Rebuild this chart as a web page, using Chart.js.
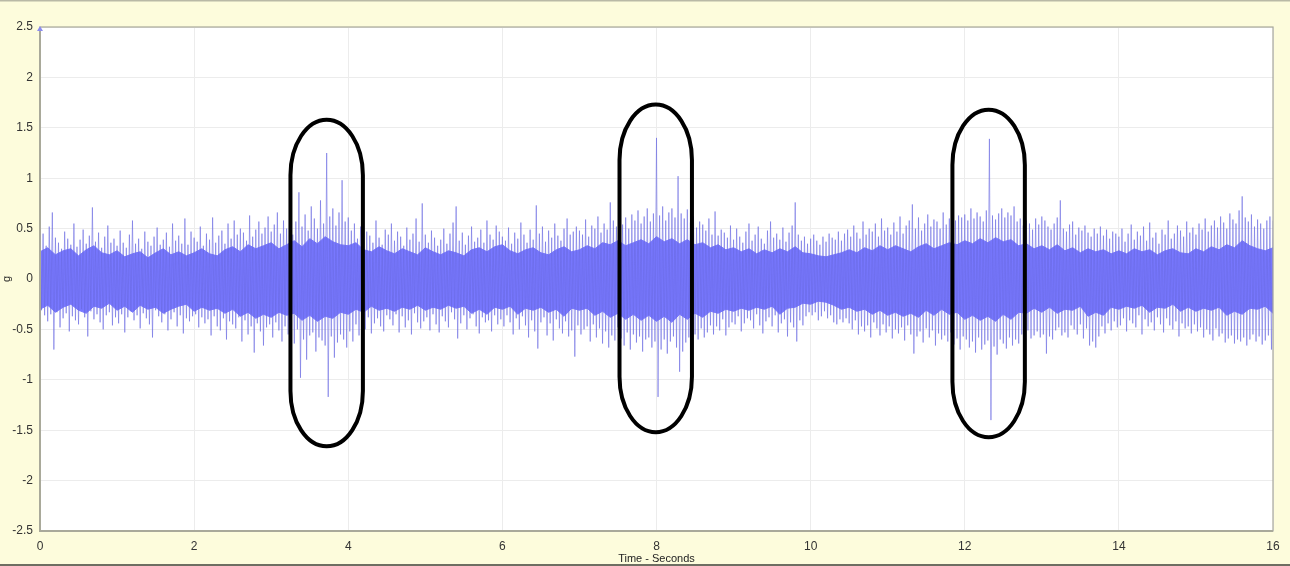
<!DOCTYPE html>
<html>
<head>
<meta charset="utf-8">
<script src="https://cdn.jsdelivr.net/npm/chart.js@4/dist/chart.umd.min.js"></script>
<style>
html,body{margin:0;padding:0;background:#fdfcdc;}
#wrap{width:1290px;height:566px;position:relative;}
</style>
</head>
<body>
<div id="wrap"><canvas id="c" width="1290" height="566"></canvas></div>
<script>
// ---- axis ticks ----
const xTicks = [0, 2, 4, 6, 8, 10, 12, 14, 16];
const yTicks = [2.5, 2, 1.5, 1, 0.5, 0, -0.5, -1, -1.5, -2, -2.5];

// ---- dense core band of the vibration signal (g), every 0.1 s ----
const coreStep = 0.1;
const coreHi = [
0.27,0.31,0.24,0.28,0.30,0.23,0.29,0.33,0.26,0.24,
0.28,0.22,0.25,0.27,0.21,0.26,0.30,0.24,0.27,0.23,
0.26,0.30,0.25,0.23,0.29,0.32,0.27,0.34,0.30,0.33,
0.36,0.30,0.34,0.38,0.32,0.40,0.35,0.42,0.37,0.34,
0.33,0.36,0.29,0.27,0.32,0.28,0.25,0.30,0.27,0.24,
0.31,0.27,0.24,0.28,0.26,0.23,0.29,0.31,0.27,0.32,
0.34,0.28,0.25,0.29,0.31,0.26,0.24,0.29,0.32,0.27,
0.29,0.33,0.30,0.36,0.34,0.38,0.33,0.36,0.39,0.35,
0.42,0.37,0.40,0.35,0.39,0.34,0.36,0.31,0.34,0.29,
0.31,0.27,0.30,0.25,0.29,0.26,0.30,0.27,0.32,0.26,
0.25,0.23,0.22,0.24,0.26,0.29,0.26,0.31,0.28,0.33,
0.29,0.33,0.30,0.27,0.32,0.35,0.30,0.33,0.36,0.34,
0.38,0.35,0.40,0.36,0.41,0.37,0.39,0.33,0.35,0.30,
0.33,0.29,0.34,0.28,0.31,0.26,0.30,0.27,0.29,0.25,
0.28,0.25,0.30,0.27,0.29,0.24,0.28,0.30,0.26,0.25,
0.30,0.27,0.32,0.29,0.34,0.31,0.38,0.33,0.30,0.28,
0.31];
const coreLo = [
-0.30,-0.26,-0.33,-0.28,-0.25,-0.31,-0.34,-0.27,-0.29,-0.24,
-0.31,-0.27,-0.33,-0.26,-0.30,-0.28,-0.34,-0.30,-0.27,-0.25,
-0.32,-0.28,-0.31,-0.29,-0.34,-0.30,-0.37,-0.33,-0.39,-0.35,
-0.38,-0.33,-0.36,-0.34,-0.41,-0.36,-0.42,-0.37,-0.39,-0.33,
-0.35,-0.30,-0.33,-0.27,-0.31,-0.29,-0.32,-0.28,-0.30,-0.26,
-0.31,-0.28,-0.30,-0.26,-0.29,-0.27,-0.34,-0.30,-0.35,-0.28,
-0.30,-0.27,-0.35,-0.29,-0.31,-0.28,-0.33,-0.30,-0.37,-0.29,
-0.31,-0.29,-0.36,-0.32,-0.38,-0.34,-0.40,-0.35,-0.41,-0.36,
-0.42,-0.37,-0.43,-0.35,-0.40,-0.34,-0.38,-0.32,-0.34,-0.30,
-0.32,-0.29,-0.31,-0.28,-0.30,-0.27,-0.35,-0.29,-0.28,-0.24,
-0.25,-0.22,-0.23,-0.26,-0.30,-0.28,-0.32,-0.30,-0.35,-0.31,
-0.36,-0.33,-0.37,-0.34,-0.38,-0.31,-0.36,-0.30,-0.35,-0.33,
-0.40,-0.36,-0.41,-0.37,-0.42,-0.35,-0.40,-0.33,-0.34,-0.29,
-0.33,-0.28,-0.34,-0.30,-0.31,-0.27,-0.37,-0.33,-0.36,-0.28,
-0.30,-0.27,-0.29,-0.26,-0.33,-0.28,-0.29,-0.25,-0.32,-0.28,
-0.32,-0.29,-0.31,-0.28,-0.36,-0.32,-0.35,-0.29,-0.30,-0.27,
-0.34];

// ---- peak excursions of the signal (g), alternating up / down, every 0.02 s ----
const peakStep = 0.02;
const peaks = [
+0.38,-0.31,+0.45,-0.36,+0.33,-0.42,+0.52,-0.35,+0.66,-0.70,+0.41,-0.33,+0.36,-0.48,+0.30,-0.39,+0.47,-0.34,+0.40,-0.52,+0.34,-0.37,+0.55,-0.41,+0.32,-0.45,+0.39,-0.30,+0.49,-0.38,+0.35,-0.57,+0.43,-0.32,+0.71,-0.40,+0.37,-0.35,+0.46,-0.43,+0.31,-0.50,+0.42,-0.36,+0.53,-0.33,+0.36,-0.46,+0.40,-0.38,
+0.33,-0.44,+0.48,-0.35,+0.36,-0.53,+0.31,-0.38,+0.44,-0.32,+0.58,-0.41,+0.35,-0.36,+0.40,-0.49,+0.30,-0.34,+0.47,-0.39,+0.37,-0.45,+0.33,-0.58,+0.42,-0.31,+0.51,-0.37,+0.34,-0.43,+0.39,-0.35,+0.46,-0.51,+0.32,-0.40,+0.55,-0.33,+0.38,-0.47,+0.43,-0.36,+0.35,-0.54,+0.60,-0.39,+0.34,-0.42,+0.47,-0.37,
+0.41,-0.35,+0.37,-0.48,+0.52,-0.38,+0.33,-0.44,+0.45,-0.40,+0.39,-0.56,+0.61,-0.37,+0.36,-0.47,+0.43,-0.51,+0.48,-0.39,+0.35,-0.60,+0.55,-0.42,+0.40,-0.45,+0.58,-0.49,+0.44,-0.38,+0.50,-0.62,+0.46,-0.41,+0.38,-0.55,+0.63,-0.47,+0.42,-0.73,+0.49,-0.44,+0.57,-0.52,+0.45,-0.66,+0.51,-0.48,+0.62,-0.45,
+0.47,-0.58,+0.54,-0.43,+0.66,-0.51,+0.45,-0.62,+0.58,-0.47,+0.50,-0.55,+0.69,-0.49,+0.44,-0.64,+0.57,-0.50,+0.86,-0.98,+0.52,-0.60,+0.64,-0.80,+0.48,-0.56,+0.72,-0.53,+0.60,-0.72,+0.50,-0.58,+0.78,-0.61,+0.55,-0.66,+1.25,-1.17,+0.62,-0.57,+0.70,-0.78,+0.53,-0.63,+0.66,-0.55,+0.98,-0.60,+0.57,-0.68,
+0.61,-0.52,+0.48,-0.62,+0.55,-0.45,+0.40,-0.56,+0.52,-0.41,+0.37,-0.50,+0.47,-0.38,+0.43,-0.54,+0.36,-0.44,+0.58,-0.39,+0.41,-0.47,+0.34,-0.52,+0.49,-0.36,+0.44,-0.40,+0.55,-0.46,+0.38,-0.35,+0.47,-0.53,+0.42,-0.37,+0.33,-0.48,+0.51,-0.41,+0.39,-0.55,+0.45,-0.34,+0.60,-0.43,+0.37,-0.49,+0.75,-0.42,
+0.44,-0.38,+0.36,-0.51,+0.48,-0.35,+0.41,-0.45,+0.33,-0.53,+0.39,-0.37,+0.50,-0.42,+0.35,-0.48,+0.45,-0.33,+0.56,-0.40,+0.72,-0.59,+0.38,-0.44,+0.46,-0.36,+0.34,-0.50,+0.43,-0.39,+0.52,-0.35,+0.37,-0.47,+0.41,-0.54,+0.49,-0.38,+0.36,-0.43,+0.58,-0.41,+0.44,-0.52,+0.39,-0.36,+0.53,-0.45,+0.47,-0.40,
+0.42,-0.47,+0.38,-0.36,+0.51,-0.43,+0.35,-0.55,+0.46,-0.39,+0.40,-0.50,+0.56,-0.37,+0.44,-0.46,+0.36,-0.58,+0.49,-0.41,+0.39,-0.52,+0.73,-0.69,+0.45,-0.43,+0.52,-0.38,+0.37,-0.56,+0.48,-0.44,+0.41,-0.61,+0.55,-0.40,+0.43,-0.49,+0.38,-0.54,+0.50,-0.42,+0.60,-0.57,+0.44,-0.51,+0.47,-0.77,+0.52,-0.46,
+0.48,-0.55,+0.44,-0.50,+0.59,-0.47,+0.42,-0.62,+0.53,-0.45,+0.50,-0.58,+0.62,-0.49,+0.46,-0.64,+0.55,-0.52,+0.49,-0.68,+0.76,-0.56,+0.58,-0.61,+0.52,-0.48,+0.66,-0.59,+0.54,-0.66,+0.61,-0.53,+0.50,-0.70,+0.64,-0.55,+0.58,-0.63,+0.68,-0.57,+0.55,-0.72,+0.62,-0.60,+0.70,-0.58,+0.57,-0.68,+0.65,-0.62,
+1.40,-1.17,+0.63,-0.70,+0.72,-0.60,+0.58,-0.74,+0.66,-0.62,+0.70,-0.57,+0.61,-0.68,+1.02,-0.92,+0.65,-0.72,+0.60,-0.63,+0.69,-0.58,+0.56,-0.66,+0.62,-0.55,+0.51,-0.60,+0.57,-0.49,+0.54,-0.58,+0.48,-0.53,+0.60,-0.46,+0.44,-0.55,+0.67,-0.47,+0.43,-0.51,+0.49,-0.40,+0.46,-0.56,+0.41,-0.48,+0.53,-0.43,
+0.39,-0.45,+0.50,-0.37,+0.42,-0.52,+0.36,-0.44,+0.47,-0.39,+0.55,-0.41,+0.38,-0.49,+0.44,-0.35,+0.52,-0.46,+0.40,-0.54,+0.35,-0.42,+0.48,-0.38,+0.57,-0.47,+0.41,-0.36,+0.45,-0.53,+0.39,-0.44,+0.51,-0.40,+0.37,-0.57,+0.46,-0.43,+0.53,-0.48,+0.76,-0.62,+0.44,-0.41,+0.38,-0.46,+0.42,-0.37,+0.35,-0.33,
+0.40,-0.36,+0.44,-0.33,+0.38,-0.41,+0.34,-0.37,+0.42,-0.32,+0.37,-0.39,+0.45,-0.36,+0.41,-0.43,+0.39,-0.45,+0.47,-0.40,+0.38,-0.43,+0.45,-0.39,+0.49,-0.44,+0.42,-0.50,+0.53,-0.41,+0.46,-0.55,+0.40,-0.47,+0.57,-0.52,+0.44,-0.46,+0.50,-0.58,+0.47,-0.43,+0.55,-0.49,+0.42,-0.56,+0.60,-0.45,+0.48,-0.53,
+0.51,-0.47,+0.44,-0.59,+0.56,-0.50,+0.47,-0.54,+0.62,-0.48,+0.45,-0.61,+0.53,-0.46,+0.58,-0.55,+0.74,-0.74,+0.50,-0.57,+0.61,-0.52,+0.48,-0.63,+0.55,-0.49,+0.64,-0.58,+0.52,-0.51,+0.59,-0.66,+0.57,-0.54,+0.50,-0.60,+0.66,-0.56,+0.54,-0.62,+0.60,-0.53,+0.68,-0.65,+0.58,-0.59,+0.63,-0.70,+0.61,-0.57,
+0.64,-0.60,+0.58,-0.68,+0.70,-0.62,+0.60,-0.73,+0.66,-0.58,+0.62,-0.70,+0.57,-0.65,+0.68,-0.61,+1.39,-1.40,+0.63,-0.67,+0.59,-0.75,+0.65,-0.60,+0.70,-0.64,+0.61,-0.69,+0.66,-0.58,+0.63,-0.66,+0.72,-0.60,+0.57,-0.64,+0.60,-0.55,+0.53,-0.62,+0.58,-0.51,+0.55,-0.59,+0.49,-0.56,+0.60,-0.52,+0.54,-0.58,
+0.62,-0.55,+0.58,-0.74,+0.52,-0.57,+0.49,-0.60,+0.55,-0.51,+0.61,-0.48,+0.78,-0.56,+0.50,-0.53,+0.47,-0.58,+0.54,-0.46,+0.57,-0.50,+0.44,-0.55,+0.51,-0.45,+0.48,-0.59,+0.53,-0.49,+0.46,-0.66,+0.42,-0.62,+0.50,-0.68,+0.45,-0.57,+0.52,-0.47,+0.43,-0.54,+0.49,-0.44,+0.40,-0.51,+0.47,-0.42,+0.45,-0.48,
+0.42,-0.46,+0.50,-0.39,+0.37,-0.52,+0.45,-0.41,+0.54,-0.44,+0.39,-0.48,+0.47,-0.36,+0.43,-0.55,+0.52,-0.40,+0.38,-0.47,+0.56,-0.43,+0.41,-0.51,+0.46,-0.38,+0.35,-0.45,+0.49,-0.53,+0.44,-0.39,+0.58,-0.46,+0.40,-0.50,+0.45,-0.42,+0.53,-0.57,+0.48,-0.44,+0.42,-0.49,+0.57,-0.47,+0.46,-0.54,+0.51,-0.45,
+0.44,-0.52,+0.55,-0.48,+0.49,-0.58,+0.60,-0.50,+0.47,-0.55,+0.53,-0.61,+0.58,-0.49,+0.51,-0.57,+0.62,-0.54,+0.56,-0.63,+0.50,-0.59,+0.65,-0.56,+0.59,-0.64,+0.55,-0.60,+0.68,-0.62,+0.82,-0.58,+0.61,-0.66,+0.57,-0.60,+0.64,-0.55,+0.52,-0.62,+0.59,-0.57,+0.55,-0.65,+0.50,-0.61,+0.58,-0.56,+0.62,-0.70,
+0.58];

// ---- highlighted events (time in s, extent in g) ----
const eventCenter = [3.72, 7.99, 12.31];
const eventHalfWidth = [0.47, 0.47, 0.47];
const eventTop = [1.58, 1.73, 1.68];
const eventBottom = [-1.66, -1.52, -1.57];
const eventCap = [0.55, 0.55, 0.55];

// ---- build library data from the arrays ----
const hiPts = coreHi.map((v, i) => ({x: +(i * coreStep).toFixed(3), y: v}));
const loPts = coreLo.map((v, i) => ({x: +(i * coreStep).toFixed(3), y: v}));
const peakPts = peaks.map((v, i) => ({x: +(i * peakStep).toFixed(3), y: v}));

const FONT = "'Liberation Sans', Arial, sans-serif";

const deco = {
  id: 'deco',
  beforeDraw(chart) {
    const ctx = chart.ctx, W = chart.width, H = chart.height;
    ctx.save();
    ctx.fillStyle = '#fdfcdc';
    ctx.fillRect(0, 0, W, H);
    const a = chart.chartArea;
    ctx.fillStyle = '#ffffff';
    ctx.fillRect(a.left, a.top, a.right - a.left, a.bottom - a.top);
    ctx.strokeStyle = '#b9b9a6';
    ctx.lineWidth = 1.5;
    ctx.beginPath(); ctx.moveTo(0, 0.75); ctx.lineTo(W, 0.75); ctx.stroke();
    ctx.strokeStyle = '#6e6e62';
    ctx.lineWidth = 2;
    ctx.beginPath(); ctx.moveTo(0, H - 1); ctx.lineTo(W, H - 1); ctx.stroke();
    ctx.restore();
  },
  afterDatasetsDraw(chart) {
    const ctx = chart.ctx, a = chart.chartArea;
    const xs = chart.scales.x, ys = chart.scales.y;
    ctx.save();
    ctx.strokeStyle = '#a9a99a';
    ctx.lineWidth = 1.2;
    ctx.strokeRect(a.left, a.top, a.right - a.left, a.bottom - a.top);
    ctx.lineWidth = 2;
    ctx.beginPath();
    ctx.moveTo(a.left, a.top); ctx.lineTo(a.left, a.bottom); ctx.lineTo(a.right, a.bottom);
    ctx.stroke();
    ctx.fillStyle = '#8c8cf0';
    const tx = xs.getPixelForValue(0), ty = ys.getPixelForValue(2.5);
    ctx.beginPath();
    ctx.moveTo(tx - 3, ty + 4); ctx.lineTo(tx + 3, ty + 4); ctx.lineTo(tx, ty - 1); ctx.closePath();
    ctx.fill();
    ctx.strokeStyle = '#000000';
    ctx.lineWidth = 4;
    for (let i = 0; i < eventCenter.length; i++) {
      const cx = xs.getPixelForValue(eventCenter[i]);
      const rx = xs.getPixelForValue(eventCenter[i] + eventHalfWidth[i]) - cx;
      const yT = ys.getPixelForValue(eventTop[i]);
      const yB = ys.getPixelForValue(eventBottom[i]);
      const ry = ys.getPixelForValue(0) - ys.getPixelForValue(eventCap[i]);
      ctx.beginPath();
      ctx.moveTo(cx - rx, yB - ry);
      ctx.lineTo(cx - rx, yT + ry);
      ctx.ellipse(cx, yT + ry, rx, ry, 0, Math.PI, 2 * Math.PI);
      ctx.lineTo(cx + rx, yB - ry);
      ctx.ellipse(cx, yB - ry, rx, ry, 0, 0, Math.PI);
      ctx.closePath();
      ctx.stroke();
    }
    ctx.restore();
  }
};

new Chart(document.getElementById('c'), {
  type: 'line',
  data: {
    datasets: [
      {label: 'coreHi', data: hiPts, borderColor: '#7878ff', borderWidth: 1, backgroundColor: '#7878ff',
       pointRadius: 0, tension: 0, fill: '+1', order: 2},
      {label: 'coreLo', data: loPts, borderColor: '#7878ff', borderWidth: 1, backgroundColor: '#7878ff',
       pointRadius: 0, tension: 0, fill: false, order: 2},
      {label: 'signal', data: peakPts, borderColor: 'rgba(105,105,225,0.58)', borderWidth: 1,
       pointRadius: 0, tension: 0, fill: false, order: 1}
    ]
  },
  options: {
    responsive: false,
    animation: false,
    devicePixelRatio: 1,
    layout: {padding: {top: 27, right: 17, left: 0, bottom: 0}},
    plugins: {legend: {display: false}, tooltip: {enabled: false}},
    scales: {
      x: {
        type: 'linear', min: 0, max: 16,
        afterBuildTicks: s => { s.ticks = xTicks.map(v => ({value: v})); },
        afterFit: s => { s.height = 35; },
        grid: {color: '#ececec', lineWidth: 1, drawTicks: false},
        border: {display: false},
        ticks: {font: {family: FONT, size: 12}, color: '#333333', padding: 8, maxRotation: 0,
                callback: v => String(v)},
        title: {display: true, text: 'Time - Seconds', font: {family: FONT, size: 11}, color: '#222222',
                padding: {top: 0, bottom: 0}}
      },
      y: {
        min: -2.5, max: 2.5,
        afterBuildTicks: s => { s.ticks = yTicks.map(v => ({value: v})); },
        afterFit: s => { s.width = 40; },
        grid: {color: '#ececec', lineWidth: 1, drawTicks: false},
        border: {display: false},
        ticks: {font: {family: FONT, size: 12}, color: '#333333', padding: 7,
                callback: v => String(v)},
        title: {display: true, text: 'g', font: {family: FONT, size: 11}, color: '#222222',
                padding: {top: 0, bottom: 0}}
      }
    }
  },
  plugins: [deco]
});
</script>
</body>
</html>
